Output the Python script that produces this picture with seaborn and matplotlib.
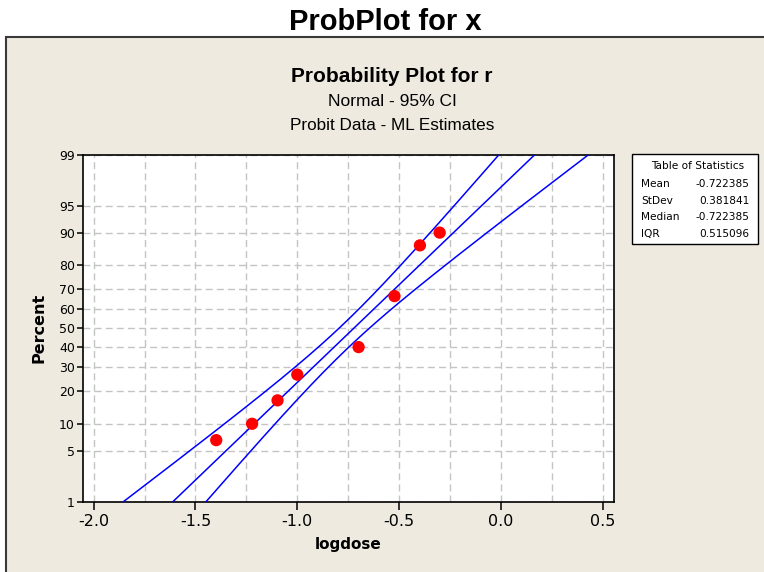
import numpy as np
import matplotlib
matplotlib.use("Agg")
import matplotlib.pyplot as plt
from matplotlib.patches import Rectangle
from matplotlib.ticker import FixedLocator, NullLocator
import seaborn as sns
from statistics import NormalDist

# Probit data: log10(dose), number responding, group size
logdose = [-1.39794, -1.22185, -1.09691, -1.00000, -0.69897, -0.52288, -0.39794, -0.30103]
events = [2, 3, 5, 8, 12, 20, 26, 27]
trials = [30, 30, 30, 30, 30, 30, 30, 30]

# ML estimates of the normal distribution
stat_names = ["Mean", "StDev", "Median", "IQR"]
stat_values = [-0.722385, 0.381841, -0.722385, 0.515096]

percent_ticks = [1, 5, 10, 20, 30, 40, 50, 60, 70, 80, 90, 95, 99]
x_ticks = [-2.0, -1.5, -1.0, -0.5, 0.0, 0.5]
x_tick_labels = ["-2.0", "-1.5", "-1.0", "-0.5", "0.0", "0.5"]
x_grid = [-2.0, -1.75, -1.5, -1.25, -1.0, -0.75, -0.5, -0.25, 0.0, 0.25, 0.5]

_nd = NormalDist()
_ppf = np.vectorize(_nd.inv_cdf, otypes=[float])
_cdf = np.vectorize(_nd.cdf, otypes=[float])
_pdf = np.vectorize(_nd.pdf, otypes=[float])


def probit(p):
    p = np.clip(np.asarray(p, dtype=float) / 100.0, 1e-9, 1 - 1e-9)
    return _ppf(p)


def inv_probit(z):
    return _cdf(np.asarray(z, dtype=float)) * 100.0


# Observed response percentages
x_obs = np.array(logdose, dtype=float)
n_obs = np.array(trials, dtype=float)
percent = 100.0 * np.array(events, dtype=float) / n_obs

# Fitted probit line and 95% fiducial (Fieller) limits
mu, sigma = stat_values[0], stat_values[1]
b1 = 1.0 / sigma
b0 = -mu / sigma
eta = b0 + b1 * x_obs
F = _cdf(eta)
w = n_obs * _pdf(eta) ** 2 / (F * (1.0 - F))
info = np.array([[w.sum(), (w * x_obs).sum()],
                 [(w * x_obs).sum(), (w * x_obs ** 2).sum()]])
cov = np.linalg.inv(info)
t = _nd.inv_cdf(0.975)

z = np.linspace(float(probit(1)), float(probit(99)), 300)
pz = inv_probit(z)
x_fit = mu + sigma * z
A = b1 ** 2 - t ** 2 * cov[1, 1]
B = 2.0 * (b1 * (b0 - z) - t ** 2 * cov[0, 1])
C = (b0 - z) ** 2 - t ** 2 * cov[0, 0]
disc = np.sqrt(B ** 2 - 4.0 * A * C)
x_lo = (-B - disc) / (2.0 * A)
x_hi = (-B + disc) / (2.0 * A)

# ---- figure ----
W, H = 764, 572
fig = plt.figure(figsize=(W / 100, H / 100), dpi=100)
fig.patch.set_facecolor("white")


def fx(px):
    return px / W


def fy(py):
    return 1.0 - py / H


panel = Rectangle((fx(6), -0.05), 1.1, fy(37) + 0.05, transform=fig.transFigure,
                  facecolor="#EEEAE0", edgecolor="#3A3A3A", lw=1.5, zorder=-1)
fig.add_artist(panel)

left, right, top, bottom = 83.3, 613.7, 154.7, 501.7
ax = fig.add_axes([fx(left), fy(bottom), (right - left) / W, (bottom - top) / H])
ax.set_facecolor("white")
ax.set_yscale("function", functions=(probit, inv_probit))
ax.set_ylim(1, 99)
ax.set_xlim(-2.0506, 0.5535)

blue = "#0000FF"
for xs in (x_lo, x_fit, x_hi):
    sns.lineplot(x=xs, y=pz, sort=False, estimator=None, color=blue,
                 lw=1.1, ax=ax, zorder=3)
sns.scatterplot(x=x_obs, y=percent, color="#FF0000", s=78, edgecolor="none",
                ax=ax, zorder=5)

ax.set_xlim(-2.0506, 0.5535)
ax.set_ylim(1, 99)

ax.xaxis.set_major_locator(FixedLocator(x_ticks))
ax.xaxis.set_minor_locator(FixedLocator(x_grid))
ax.xaxis.remove_overlapping_locs = False
ax.set_xticklabels(x_tick_labels)
ax.yaxis.set_major_locator(FixedLocator(percent_ticks))
ax.yaxis.set_minor_locator(NullLocator())
ax.set_yticklabels([str(p) for p in percent_ticks])

grid_kw = dict(color="#C4C4C4", linestyle=(0, (5, 3)), lw=1.0)
ax.grid(True, which="minor", axis="x", **grid_kw)
ax.grid(False, which="major", axis="x")
ax.grid(True, which="major", axis="y", **grid_kw)
ax.set_axisbelow(True)

for sp in ax.spines.values():
    sp.set_color("black")
    sp.set_linewidth(1.2)

ax.tick_params(axis="x", which="major", direction="out", length=6, width=1.1,
               labelsize=11.5, pad=3, color="black")
ax.tick_params(axis="x", which="minor", length=0)
ax.tick_params(axis="y", which="major", direction="out", length=4, width=1.1,
               labelsize=9, pad=2, color="black")
for lab in ax.get_xticklabels() + ax.get_yticklabels():
    lab.set_family("DejaVu Sans")

ax.set_xlabel("logdose", fontsize=11, fontweight="bold", family="DejaVu Sans")
ax.set_ylabel("Percent", fontsize=11.5, fontweight="bold", family="DejaVu Sans")
ax.xaxis.label.set_va("center")
ax.xaxis.set_label_coords(0.499, (bottom - 545) / (bottom - top))
ax.yaxis.label.set_va("center")
ax.yaxis.label.set_ha("center")
ax.yaxis.set_label_coords((39 - left) / (right - left), 0.5)

# Titles
fig.text(fx(385), fy(30), "ProbPlot for x", ha="center", va="baseline",
         fontsize=21, fontweight="bold", family="Liberation Sans")
fig.text(fx(392), fy(82), "Probability Plot for r", ha="center", va="baseline",
         fontsize=15, fontweight="bold", family="Liberation Sans")
fig.text(fx(392), fy(106), "Normal - 95% CI", ha="center", va="baseline",
         fontsize=12.5, family="Liberation Sans")
fig.text(fx(392), fy(130), "Probit Data - ML Estimates", ha="center", va="baseline",
         fontsize=12.3, family="Liberation Sans")

# Table of statistics
tb_l, tb_r, tb_t, tb_b = 632.3, 758.3, 154.3, 244.0
fig.add_artist(Rectangle((fx(tb_l), fy(tb_b)), (tb_r - tb_l) / W, (tb_b - tb_t) / H,
                         transform=fig.transFigure, facecolor="white",
                         edgecolor="black", lw=1.0, zorder=2))
tfont = dict(fontsize=7.6, family="DejaVu Sans", va="center", zorder=3)
fig.text(fx(697.5), fy(166), "Table of Statistics", ha="center", **tfont)
row_y = [184, 200.5, 217, 234]
for name, val, yy in zip(stat_names, stat_values, row_y):
    fig.text(fx(641), fy(yy), name, ha="left", **tfont)
    fig.text(fx(749), fy(yy), f"{val:.6f}", ha="right", **tfont)

fig.savefig("out.png", dpi=100, facecolor=fig.get_facecolor())
